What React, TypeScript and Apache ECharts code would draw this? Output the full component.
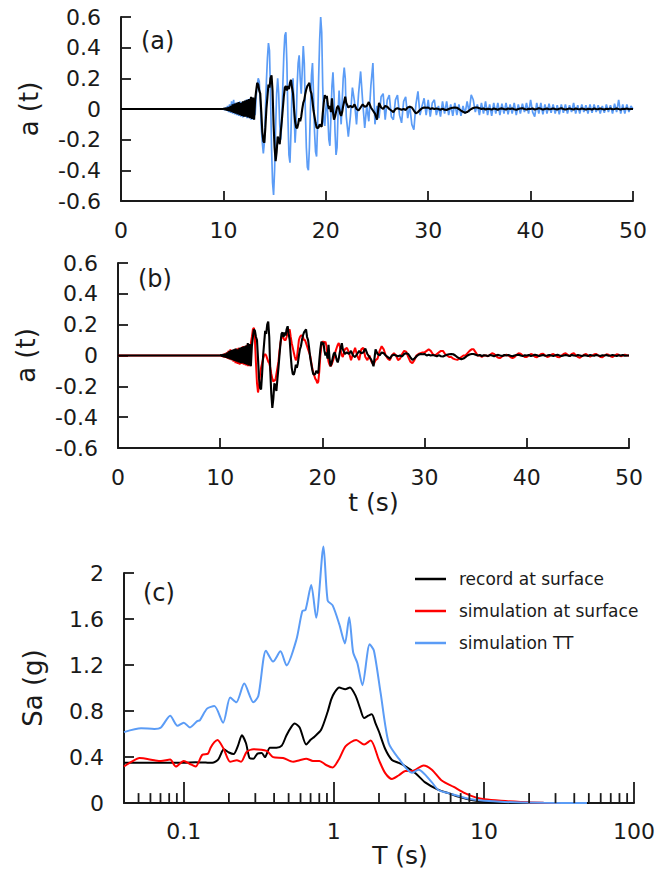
import React, { useEffect, useRef } from "react";
import * as echarts from "echarts";

// ---------- time histories: a(t) in g ----------
// fine part: t = 10.0 .. 22.0 s, step 0.1 s (121 values, one row per second)
const FINE_START = 10;
const FINE_STEP = 0.1;
// coarse part: t = 22.2 .. 50.0 s, step 0.2 s (140 values, one row per 2 s)
const COARSE_START = 22.2;
const COARSE_STEP = 0.2;

const recordFine = [
  0, 0.005, -0.006, 0.008, -0.01, 0.012, -0.014, 0.02, -0.02, 0.03,
  -0.025, 0.035, -0.03, 0.04, -0.035, 0.045, -0.04, 0.04, -0.045, 0.05,
  -0.05, 0.055, -0.05, 0.06, -0.055, 0.065, -0.06, 0.08, -0.065, 0.075,
  -0.07, 0.06, 0.12, 0.17, 0.16, 0.12, 0.1, -0.02, -0.15, -0.21,
  -0.22, -0.12, 0.0, 0.08, 0.16, 0.14, 0.2, 0.22, 0.12, -0.1,
  -0.25, -0.34, -0.28, -0.18, -0.2, -0.23, -0.15, -0.08, 0.0, 0.08,
  0.14, 0.15, 0.12, 0.15, 0.13, 0.17, 0.19, 0.14, 0.1, 0.0,
  -0.08, -0.12, -0.125, -0.1, -0.06, -0.08, -0.05, 0.0, 0.04, 0.06,
  0.1, 0.13, 0.15, 0.16, 0.17, 0.12, 0.1, 0.05, -0.01, -0.05,
  -0.09, -0.12, -0.125, -0.12, -0.1, -0.11, -0.115, -0.03, 0.04, 0.09,
  0.07, 0.085, 0.03, 0.0, 0.02, -0.02, 0.07, -0.02, -0.07, -0.05,
  -0.02, 0.01, 0.02, 0.0, -0.03, -0.045, -0.02, 0.02, 0.05, 0.08,
  0.04,
];
const recordCoarse = [
  0.01, 0.02, 0.01, 0.03, 0.0, -0.01, 0.01, 0.03, 0.015, 0.02,
  0.045, 0.01, -0.01, -0.03, -0.07, 0.04, 0.01, 0.0, 0.02, 0.015,
  0.0, -0.01, -0.02, 0.0, 0.005, 0.0, -0.005, 0.0, -0.006, 0.01,
  0.015, 0.01, -0.01, -0.028, -0.02, -0.006, 0.005, 0.01, 0.008, 0.01,
  0.0, 0.005, 0.0, 0.003, 0.0, -0.005, 0.002, -0.005, -0.006, 0.0,
  0.005, 0.008, 0.01, 0.008, 0.0, -0.01, -0.018, -0.024, -0.02, -0.01,
  0.0, 0.006, 0.01, 0.01, 0.005, 0.0, 0.004, -0.003, 0.002, 0.0,
  -0.004, 0.003, 0.0, -0.005, 0.002, 0.004, 0.0, -0.003, 0.003, 0.0,
  0.004, -0.002, -0.005, 0.0, 0.003, 0.005, 0.0, -0.004, 0.002, 0.0,
  0.003, -0.003, 0.0, 0.005, 0.002, -0.004, 0.0, 0.003, -0.002, 0.0,
  0.004, 0.0, -0.003, 0.002, 0.005, 0.0, -0.004, 0.0, 0.003, 0.0,
  -0.003, 0.004, 0.0, -0.002, 0.003, 0.0, -0.004, 0.002, 0.0, -0.003,
  0.003, 0.0, -0.002, 0.004, 0.0, -0.003, 0.002, 0.0, 0.003, -0.002,
  0.0, 0.004, 0.0, -0.003, 0.002, 0.0, 0.003, -0.002, 0.0, 0.0,
];

const ttFine = [
  0, -0.006, 0.01, -0.012, 0.02, -0.02, 0.03, -0.025, 0.05, -0.03,
  0.06, -0.035, 0.04, -0.04, 0.045, -0.045, 0.05, -0.05, 0.045, -0.055,
  0.05, -0.05, 0.06, -0.06, 0.065, -0.06, 0.07, -0.07, 0.075, -0.07,
  0.05, -0.04, 0.08, 0.15, 0.2, 0.18, 0.05, -0.12, -0.22, -0.29,
  -0.22, -0.02, 0.18, 0.33, 0.43, 0.38, 0.1, -0.25, -0.48, -0.56,
  -0.4, -0.12, 0.1, 0.2, 0.1, -0.1, -0.2, -0.08, 0.15, 0.35,
  0.48, 0.5, 0.3, -0.05, -0.3, -0.35, -0.15, 0.12, 0.2, 0.0,
  -0.22, -0.1, 0.15, 0.3, 0.35, 0.2, 0.1, 0.25, 0.41, 0.3,
  0.0, -0.25, -0.38, -0.4, -0.25, 0.0, 0.22, 0.3, 0.1, -0.15,
  -0.28, -0.31, -0.1, 0.2, 0.45, 0.6, 0.5, 0.15, -0.08, -0.11,
  0.0, 0.06, -0.05, -0.2, -0.24, -0.05, 0.15, 0.24, 0.1, -0.15,
  -0.3, -0.25, -0.02, 0.12, 0.0, -0.1, 0.05, 0.2, 0.27, 0.2,
  -0.05,
];
const ttCoarse = [
  -0.18, -0.05, 0.14, 0.05, -0.1, 0.1, 0.245, 0.05, -0.124, 0.02,
  -0.08, 0.15, 0.3, -0.1, 0.02, -0.06, 0.08, 0.1, -0.07, 0.06,
  0.09, -0.05, -0.07, 0.06, 0.09, -0.04, -0.09, 0.05, 0.08, -0.06,
  0.02, -0.1, -0.135, 0.03, 0.115, -0.04, 0.02, 0.07, -0.04, 0.06,
  -0.05, 0.04, 0.06, -0.04, 0.02, -0.05, 0.05, -0.03, 0.05, -0.04,
  0.03, -0.045, 0.04, -0.04, 0.03, -0.045, 0.02, -0.03, 0.05, -0.02,
  0.093, 0.06, -0.02, 0.03, -0.04, 0.04, -0.03, 0.05, -0.04, 0.03,
  -0.045, 0.04, -0.03, 0.04, -0.04, 0.035, -0.03, 0.04, -0.035, 0.03,
  -0.03, 0.04, -0.04, 0.03, -0.03, 0.035, -0.02, 0.04, -0.03, 0.06,
  -0.02, -0.05, 0.04, -0.03, 0.04, -0.035, 0.03, -0.03, 0.035, -0.025,
  0.03, -0.03, 0.025, -0.035, 0.03, -0.025, 0.03, -0.03, 0.025, -0.02,
  0.04, -0.03, 0.025, -0.03, 0.03, -0.02, 0.025, -0.03, 0.03, -0.025,
  0.03, -0.02, 0.025, -0.03, 0.02, -0.025, 0.03, -0.02, 0.025, -0.03,
  0.035, -0.02, 0.06, -0.03, 0.03, -0.03, 0.03, -0.02, 0.02, 0.0,
];

const simFine = [
  0, -0.004, 0.006, -0.01, 0.012, -0.014, 0.018, -0.02, 0.03, -0.025,
  0.04, -0.03, 0.035, -0.04, 0.04, -0.05, 0.045, -0.055, 0.05, -0.06,
  0.05, -0.055, 0.06, -0.06, 0.06, -0.065, 0.07, -0.07, 0.075, -0.07,
  0.08, 0.12, 0.17, 0.18, 0.1, -0.05, -0.18, -0.24, -0.2, -0.12,
  -0.08, -0.05, -0.02, 0.0, 0.01, 0.0, -0.02, -0.04, -0.05, -0.08,
  -0.12, -0.15, -0.17, -0.16, -0.16, -0.12, -0.08, -0.04, 0.03, 0.08,
  0.12, 0.13, 0.11, 0.1, 0.1, 0.12, 0.15, 0.16, 0.17, 0.12,
  0.08, 0.05, 0.02, -0.01, -0.03, -0.02, 0.04, 0.1, 0.12, 0.13,
  0.13, 0.12, 0.1, 0.1, 0.08, 0.06, 0.04, 0.02, 0.0, -0.04,
  -0.08, -0.11, -0.13, -0.15, -0.16, -0.18, -0.17, -0.1, 0.0, 0.06,
  0.09, 0.09, 0.08, 0.09, 0.06, 0.0, -0.04, -0.06, -0.07, -0.06,
  -0.04, -0.02, 0.0, 0.03, 0.05, 0.07, 0.08, 0.06, 0.03, 0.0,
  -0.01,
];
const simCoarse = [
  0.04, 0.05, 0.02, -0.03, 0.01, 0.05, 0.0, -0.03, 0.04, 0.05,
  -0.01, -0.03, 0.0, -0.04, -0.06, -0.03, -0.02, 0.03, 0.06, 0.04,
  0.0, -0.02, -0.03, 0.0, 0.015, 0.0, -0.03, -0.02, 0.01, 0.03,
  0.025, -0.01, -0.04, -0.05, -0.03, 0.0, 0.01, 0.015, 0.02, 0.02,
  0.03, 0.04, 0.03, 0.01, 0.0, 0.01, 0.02, 0.03, 0.03, 0.01,
  0.0, -0.01, -0.01, -0.02, -0.025, -0.028, -0.02, -0.01, 0.0, 0.0,
  0.015, 0.03, 0.04, 0.04, 0.02, 0.0, 0.0, -0.01, 0.0, 0.0,
  -0.005, 0.005, 0.015, 0.01, -0.005, -0.015, -0.017, -0.005, 0.0, 0.005,
  0.0, -0.01, -0.017, -0.01, 0.005, 0.015, 0.012, 0.0, -0.01, -0.01,
  0.0, 0.01, 0.005, -0.008, -0.012, 0.0, 0.01, 0.012, 0.0, -0.01,
  -0.005, 0.005, 0.01, 0.0, -0.01, -0.012, 0.0, 0.01, 0.015, 0.005,
  -0.005, 0.01, 0.015, 0.0, -0.01, -0.015, -0.005, 0.005, 0.01, 0.0,
  -0.008, 0.0, 0.008, 0.01, 0.0, -0.01, -0.012, 0.0, 0.008, 0.005,
  -0.005, -0.01, 0.0, 0.008, 0.005, -0.005, 0.0, 0.005, 0.0, 0.0,
];

// ---------- response spectra: T (s) vs Sa (g) ----------
const recordT = [0.04, 0.06, 0.08, 0.1, 0.12, 0.14, 0.155, 0.17, 0.185, 0.2, 0.215, 0.23, 0.244, 0.26, 0.275, 0.291, 0.31, 0.331, 0.348, 0.375, 0.415, 0.45, 0.484, 0.52, 0.548, 0.592, 0.655, 0.7, 0.743, 0.823, 0.91, 0.96, 1.008, 1.087, 1.191, 1.28, 1.4, 1.5, 1.59, 1.7, 1.79, 1.9, 2.0, 2.2, 2.44, 2.7, 3.0, 3.5, 4.06, 4.9, 5.78, 7.0, 8.24, 10, 13.7, 20, 30, 50];
const recordSa = [0.35, 0.35, 0.35, 0.35, 0.355, 0.352, 0.35, 0.38, 0.468, 0.44, 0.427, 0.5, 0.59, 0.52, 0.39, 0.386, 0.43, 0.435, 0.4, 0.482, 0.482, 0.5, 0.59, 0.66, 0.691, 0.658, 0.509, 0.55, 0.577, 0.637, 0.794, 0.9, 0.958, 1.004, 0.99, 1.005, 0.93, 0.82, 0.74, 0.76, 0.772, 0.69, 0.62, 0.47, 0.375, 0.35, 0.32, 0.26, 0.18, 0.12, 0.087, 0.05, 0.027, 0.012, 0.005, 0.002, 0.0, 0.0];

const simT = [0.04, 0.045, 0.0507, 0.0637, 0.0705, 0.0812, 0.0886, 0.1, 0.11, 0.12, 0.133, 0.145, 0.151, 0.16, 0.168, 0.185, 0.204, 0.226, 0.241, 0.263, 0.291, 0.357, 0.394, 0.459, 0.535, 0.592, 0.655, 0.725, 0.802, 0.888, 0.982, 1.087, 1.2, 1.41, 1.59, 1.76, 2.0, 2.2, 2.44, 2.7, 3.0, 3.31, 3.96, 4.5, 5.23, 6.3, 7.46, 8.8, 10.1, 13, 17.6, 25, 47];
const simSa = [0.318, 0.36, 0.392, 0.372, 0.365, 0.378, 0.318, 0.366, 0.34, 0.318, 0.42, 0.43, 0.482, 0.53, 0.549, 0.468, 0.359, 0.373, 0.359, 0.446, 0.468, 0.454, 0.4, 0.392, 0.359, 0.373, 0.386, 0.367, 0.367, 0.331, 0.31, 0.386, 0.495, 0.549, 0.509, 0.544, 0.373, 0.26, 0.209, 0.24, 0.278, 0.278, 0.327, 0.29, 0.196, 0.14, 0.087, 0.05, 0.033, 0.02, 0.01, 0.004, 0.0];

const ttT = [0.04, 0.052, 0.0637, 0.0705, 0.0812, 0.0908, 0.1, 0.11, 0.123, 0.128, 0.143, 0.16, 0.183, 0.204, 0.224, 0.253, 0.291, 0.314, 0.353, 0.394, 0.441, 0.484, 0.563, 0.617, 0.648, 0.707, 0.763, 0.853, 0.91, 0.982, 1.087, 1.186, 1.266, 1.345, 1.436, 1.55, 1.734, 1.85, 2.05, 2.32, 2.71, 3.31, 3.67, 4.49, 4.97, 5.78, 8.24, 13.7, 25, 48.6];
const ttSa = [0.617, 0.65, 0.645, 0.658, 0.759, 0.672, 0.699, 0.658, 0.713, 0.72, 0.821, 0.843, 0.699, 0.917, 0.876, 1.039, 0.876, 0.93, 1.325, 1.23, 1.319, 1.197, 1.42, 1.67, 1.68, 1.896, 1.61, 2.231, 1.76, 1.719, 1.556, 1.388, 1.616, 1.311, 1.216, 1.025, 1.38, 1.325, 0.958, 0.522, 0.386, 0.264, 0.29, 0.182, 0.114, 0.087, 0.033, 0.01, 0.002, 0.0];

const minorTickValues = [0.05, 0.06, 0.07, 0.08, 0.09, 0.2, 0.3, 0.4, 0.5, 0.6, 0.7, 0.8, 0.9, 2, 3, 4, 5, 6, 7, 8, 9, 20, 30, 40, 50, 60, 70, 80, 90];

const LEGEND_NAMES = ["record at surface", "simulation at surface", "simulation TT"];

const FONT = "DejaVu Sans";
const INK = "#1a1a1a";
const BLACK = "#000000";
const RED = "#ff0000";
const BLUE = "#5b9cf6";

function history(fine: number[], coarse: number[]) {
  const out: number[][] = [[0, 0]];
  fine.forEach((v, i) => out.push([Math.round((FINE_START + i * FINE_STEP) * 100) / 100, v]));
  coarse.forEach((v, i) => out.push([Math.round((COARSE_START + i * COARSE_STEP) * 100) / 100, v]));
  return out;
}
function pairs(xs: number[], ys: number[]) {
  return xs.map((x, i) => [x, ys[i]]);
}

const axisLine = { show: true, onZero: false, lineStyle: { color: INK, width: 2 } };
const tick = (len: number) => ({ show: true, inside: true, length: len, lineStyle: { color: INK, width: 1.8 } });
const label = (margin: number) => ({ fontSize: 22, fontFamily: FONT, color: INK, margin });
const nameStyle = { fontSize: 25, fontFamily: FONT, color: INK };
const yNameStyle = { fontSize: 26, fontFamily: FONT, color: INK };

export default function App() {
  const ref = useRef<HTMLDivElement>(null);
  useEffect(() => {
    if (!ref.current) return;
    const chart = echarts.init(ref.current, undefined, { renderer: "svg" });
    const timeX = (grid: number, extra: any = {}) => ({
      gridIndex: grid, type: "value", min: 0, max: 50, interval: 10,
      axisLine, axisTick: tick(10), axisLabel: label(18), splitLine: { show: false }, ...extra,
    });
    const accY = (grid: number) => ({
      gridIndex: grid, type: "value", min: -0.6, max: 0.6, interval: 0.2,
      axisLine, axisTick: tick(10), axisLabel: label(20), splitLine: { show: false },
      name: "a (t)", nameLocation: "middle", nameGap: 79, nameTextStyle: yNameStyle,
    });
    const option: any = {
      animation: false,
      textStyle: { fontFamily: FONT },
      grid: [
        { left: 121, top: 17, width: 512, height: 184 },
        { left: 118, top: 263, width: 511, height: 185 },
        { left: 124, top: 573, width: 512, height: 244 },
      ],
      xAxis: [
        timeX(0),
        timeX(1, { name: "t (s)", nameLocation: "middle", nameGap: 42, nameTextStyle: nameStyle }),
        {
          gridIndex: 2, type: "log", logBase: 10, min: 0.04, max: 100,
          axisLine, axisTick: tick(21), splitLine: { show: false },
          axisLabel: { ...label(17), showMinLabel: false },
          name: "T (s)", nameLocation: "middle", nameGap: 14,
          nameTextStyle: { ...nameStyle, padding: [0, 0, 0, 42] },
        },
      ],
      yAxis: [
        accY(0),
        accY(1),
        {
          gridIndex: 2, type: "value", min: 0, max: 2, interval: 0.4,
          axisLine, axisTick: tick(10), axisLabel: label(20), splitLine: { show: false },
          name: "Sa (g)", nameLocation: "middle", nameGap: 78, nameTextStyle: yNameStyle,
        },
      ],
      legend: {
        data: LEGEND_NAMES, orient: "vertical", left: 415, top: 569, padding: 0,
        icon: "rect", itemWidth: 31, itemHeight: 2.5, itemGap: 12,
        textStyle: { fontSize: 17, fontFamily: FONT, color: INK, lineHeight: 20, padding: [0, 0, 0, 8] },
      },
      graphic: [
        { type: "text", left: 141, top: 29, style: { text: "(a)", fontSize: 24, fontFamily: FONT, fill: INK } },
        { type: "text", left: 138, top: 267, style: { text: "(b)", fontSize: 24, fontFamily: FONT, fill: INK } },
        { type: "text", left: 143, top: 581, style: { text: "(c)", fontSize: 24, fontFamily: FONT, fill: INK } },
      ],
      series: [
        { name: "TT a(t)", type: "line", xAxisIndex: 0, yAxisIndex: 0, data: history(ttFine, ttCoarse), showSymbol: false, lineStyle: { color: BLUE, width: 1.7 }, itemStyle: { color: BLUE } },
        { name: "record a(t) [a]", type: "line", xAxisIndex: 0, yAxisIndex: 0, data: history(recordFine, recordCoarse), showSymbol: false, lineStyle: { color: BLACK, width: 2.1 }, itemStyle: { color: BLACK } },
        { name: "simulation a(t)", type: "line", xAxisIndex: 1, yAxisIndex: 1, data: history(simFine, simCoarse), showSymbol: false, lineStyle: { color: RED, width: 2 }, itemStyle: { color: RED } },
        { name: "record a(t) [b]", type: "line", xAxisIndex: 1, yAxisIndex: 1, data: history(recordFine, recordCoarse), showSymbol: false, lineStyle: { color: BLACK, width: 2.1 }, itemStyle: { color: BLACK } },
        { name: LEGEND_NAMES[0], type: "line", xAxisIndex: 2, yAxisIndex: 2, data: pairs(recordT, recordSa), showSymbol: false, smooth: 0.25, lineStyle: { color: BLACK, width: 2 }, itemStyle: { color: BLACK } },
        { name: LEGEND_NAMES[1], type: "line", xAxisIndex: 2, yAxisIndex: 2, data: pairs(simT, simSa), showSymbol: false, smooth: 0.25, lineStyle: { color: RED, width: 2 }, itemStyle: { color: RED } },
        { name: LEGEND_NAMES[2], type: "line", xAxisIndex: 2, yAxisIndex: 2, data: pairs(ttT, ttSa), showSymbol: false, smooth: 0.25, clip: false, lineStyle: { color: BLUE, width: 2 }, itemStyle: { color: BLUE } },
        {
          name: "minor ticks", type: "custom", xAxisIndex: 2, yAxisIndex: 2, silent: true, z: 5,
          data: minorTickValues.map((v) => [v, 0]),
          renderItem: (_p: any, api: any) => {
            const p = api.coord([api.value(0), 0]);
            return { type: "line", shape: { x1: p[0], y1: p[1], x2: p[0], y2: p[1] - 10 }, style: { stroke: INK, lineWidth: 1.8 } };
          },
        },
      ],
    };
    chart.setOption(option);
    return () => chart.dispose();
  }, []);
  return <div ref={ref} style={{ position: "absolute", left: 0, top: 0, width: 658, height: 869, background: "#fff" }} />;
}
